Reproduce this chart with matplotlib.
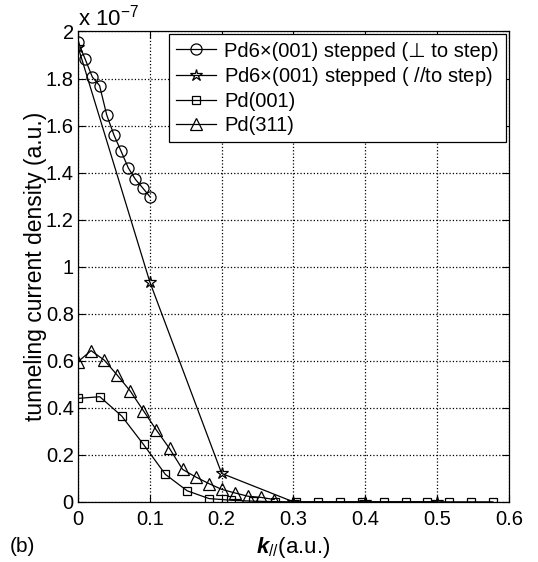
import numpy as np
import matplotlib
matplotlib.use('Agg')
import matplotlib.pyplot as plt

plt.rcParams['font.family'] = ['Liberation Sans', 'DejaVu Sans']
plt.rcParams['mathtext.fontset'] = 'custom'
plt.rcParams['mathtext.rm'] = 'Liberation Sans'
plt.rcParams['mathtext.it'] = 'Liberation Sans:italic'
plt.rcParams['mathtext.bf'] = 'Liberation Sans:italic:bold'

# data (current density in units of 1e-7)
k_perp = [0.0, 0.01, 0.02, 0.03, 0.04, 0.05, 0.06, 0.07, 0.08, 0.09, 0.1]
j_perp = [1.957, 1.882, 1.806, 1.770, 1.645, 1.560, 1.491, 1.420, 1.371, 1.335, 1.298]

k_par = [0.0, 0.1, 0.2, 0.3, 0.4, 0.5]
j_par = [1.935, 0.935, 0.121, 0.0, 0.0, 0.0]

k_001 = [0.0, 0.0304, 0.0608, 0.0912, 0.1216, 0.152, 0.1824, 0.2128, 0.2432, 0.2736,
         0.304, 0.3344, 0.3648, 0.3952, 0.4256, 0.456, 0.4864, 0.5168, 0.5472, 0.5776]
j_001 = [0.44, 0.447, 0.365, 0.244, 0.117, 0.047, 0.014, 0.007, 0.003, 0.001,
         0.0, 0.0, 0.0, 0.0, 0.0, 0.0, 0.0, 0.0, 0.0, 0.0]

k_311 = [0.0, 0.0182, 0.0364, 0.0546, 0.0728, 0.091, 0.1092, 0.1274, 0.1456, 0.1638,
         0.182, 0.2002, 0.2184, 0.2366, 0.2548, 0.273]
j_311 = [0.596, 0.643, 0.603, 0.539, 0.471, 0.388, 0.305, 0.227, 0.138, 0.106,
         0.078, 0.053, 0.038, 0.024, 0.019, 0.010]

fig = plt.figure(figsize=(5.38, 5.62), dpi=100)
ax = fig.add_axes([0.145, 0.107, 0.801, 0.837])

lw = 0.9
ax.plot(k_perp, j_perp, '-o', color='black', mfc='none', ms=8, lw=lw, mew=0.9,
        label='Pd6×(001) stepped (⊥ to step)')
ax.plot(k_par, j_par, '-*', color='black', mfc='none', ms=9, lw=lw, mew=0.9,
        label='Pd6×(001) stepped ( $\\mathit{//}$to step)')
ax.plot(k_001, j_001, '-s', color='black', mfc='none', ms=6, lw=lw, mew=0.9,
        label='Pd(001)')
ax.plot(k_311, j_311, '-^', color='black', mfc='none', ms=8, lw=lw, mew=0.9,
        label='Pd(311)')

ax.set_xlim(0, 0.6)
ax.set_ylim(0, 2)
xt = [0, 0.1, 0.2, 0.3, 0.4, 0.5, 0.6]
yt = [0, 0.2, 0.4, 0.6, 0.8, 1.0, 1.2, 1.4, 1.6, 1.8, 2.0]
ax.set_xticks(xt)
ax.set_xticklabels(['0', '0.1', '0.2', '0.3', '0.4', '0.5', '0.6'])
ax.set_yticks(yt)
ax.set_yticklabels(['0', '0.2', '0.4', '0.6', '0.8', '1', '1.2', '1.4', '1.6', '1.8', '2'])
ax.tick_params(direction='in', top=True, right=True, labelsize=14.5, length=5, width=0.8)
ax.tick_params(axis='x', pad=6)
ax.tick_params(axis='y', pad=3)
ax.grid(True, linestyle=':', color='black', linewidth=0.9)
for s in ax.spines.values():
    s.set_linewidth(0.9)

ax.set_ylabel('tunneling current density (a.u.)', fontsize=16.5, labelpad=-1)
ax.set_xlabel('$\\mathbf{k}_{//}$(a.u.)', fontsize=16, labelpad=4)
ax.text(0.0, 1.003, 'x 10$^{-7}$', transform=ax.transAxes, fontsize=16, ha='left', va='bottom')
fig.text(0.018, 0.027, '(b)', fontsize=15, ha='left', va='center')

leg = ax.legend(loc='upper right', fontsize=14.5, frameon=True, fancybox=False,
                edgecolor='black', framealpha=1, borderpad=0.35, labelspacing=0.22,
                handlelength=2.0, handletextpad=0.4, borderaxespad=0.15)
leg.get_frame().set_linewidth(0.9)

fig.savefig('out.png', dpi=100)
